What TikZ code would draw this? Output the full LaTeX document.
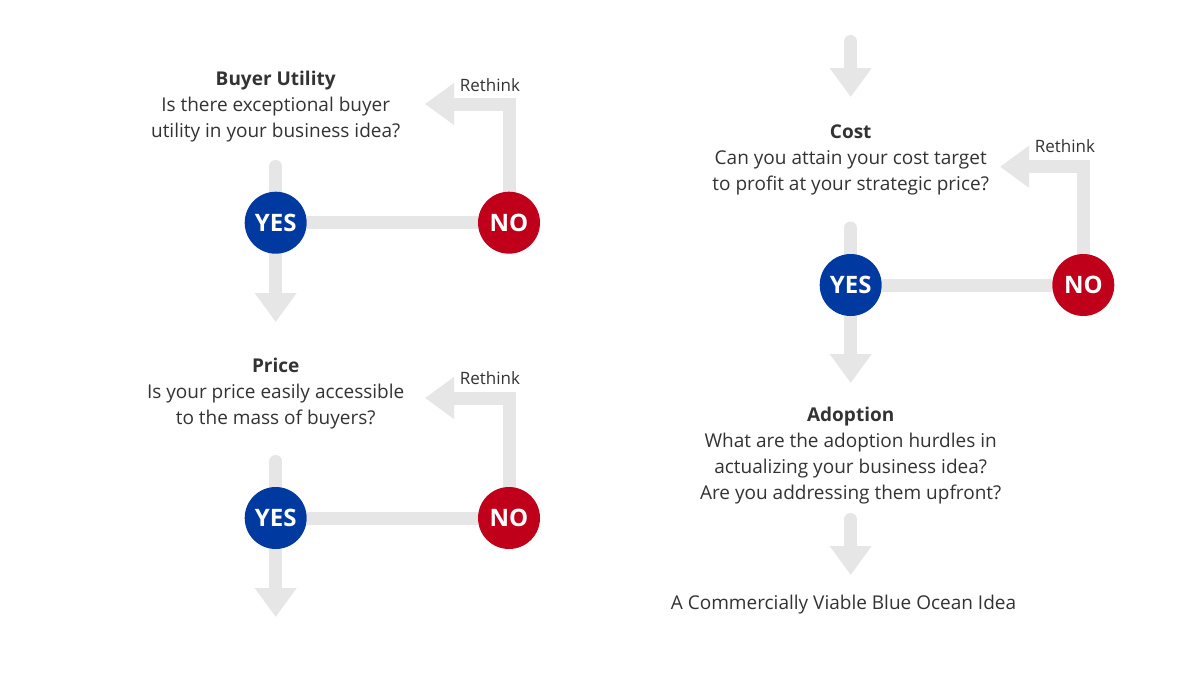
\documentclass[tikz,border=0pt]{standalone}
\usepackage{fontspec}
\setmainfont{Open Sans}
\usetikzlibrary{arrows.meta,backgrounds}
\definecolor{barc}{HTML}{E6E6E6}
\definecolor{yesblue}{HTML}{0039A0}
\definecolor{nored}{HTML}{C0001B}
\definecolor{txt}{HTML}{333333}
\begin{document}
\begin{tikzpicture}[x=0.5pt,y=-0.5pt,
  circ/.style={circle,minimum size=31pt,inner sep=0pt,text=white,font=\bfseries\fontsize{12}{14}\selectfont},
  yesnode/.style={circ,fill=yesblue},
  nonode/.style={circ,fill=nored},
  conn/.style={draw=barc,line width=6.5pt},
  downarrow/.style={conn,line cap=round,-{Triangle[width=20pt,length=14.5pt]}},
  rethinkarrow/.style={conn,-{Triangle[width=20pt,length=14.5pt]}},
  question/.style={align=center,text=txt,font=\fontsize{9.5}{13}\selectfont,inner sep=0pt},
  rlabel/.style={text=txt,font=\fontsize{8.5}{10}\selectfont,inner sep=0pt},
]
\useasboundingbox (0,0) rectangle (1200,675);

% Block 1: Buyer Utility
\node[question] (t1) at (275.7,107) {\textbf{Buyer Utility}\\Is there exceptional buyer\\utility in your business idea?};
\node[yesnode] (yes1) at (275.7,222.7) {YES};
\node[nonode] (no1) at (509,222.7) {NO};
\coordinate (y1top) at (275.7,166.5);
\coordinate (y1tip) at (275.7,322);
\coordinate (r1tip) at (425,104);
\node[rlabel] (rl1) at (490,85) {Rethink};

% Block 2: Price
\node[question] (t2) at (275.7,394) {\textbf{Price}\\Is your price easily accessible\\to the mass of buyers?};
\node[yesnode] (yes2) at (275.7,518) {YES};
\node[nonode] (no2) at (509,518) {NO};
\coordinate (y2top) at (275.7,461.5);
\coordinate (y2tip) at (275.7,617);
\coordinate (r2tip) at (425,398);
\node[rlabel] (rl2) at (490,378) {Rethink};

% Block 3: Cost
\coordinate (c0top) at (850.7,41.5);
\coordinate (c0tip) at (850.7,97);
\node[question] (t3) at (850.7,160) {\textbf{Cost}\\Can you attain your cost target\\to profit at your strategic price?};
\node[yesnode] (yes3) at (850.7,285) {YES};
\node[nonode] (no3) at (1083.3,285) {NO};
\coordinate (y3top) at (850.7,228);
\coordinate (y3tip) at (850.7,383);
\coordinate (r3tip) at (1000,166.7);
\node[rlabel] (rl3) at (1065,146) {Rethink};

% Block 4: Adoption
\node[question] (t4) at (850.7,455.5) {\textbf{Adoption}\\What are the adoption hurdles in\\actualizing your business idea?\\Are you addressing them upfront?};
\coordinate (a0top) at (850.7,519.5);
\coordinate (a0tip) at (850.7,575);
\node[question] (fin) at (843.5,605) {A Commercially Viable Blue Ocean Idea};

\begin{scope}[on background layer]
  \fill[white] (0,0) rectangle (1200,675);
  \draw[conn] (yes1) -- (no1);
  \draw[downarrow] (y1top) -- (y1tip);
  \draw[rethinkarrow] (no1.center) |- (r1tip);
  \draw[conn] (yes2) -- (no2);
  \draw[downarrow] (y2top) -- (y2tip);
  \draw[rethinkarrow] (no2.center) |- (r2tip);
  \draw[downarrow] (c0top) -- (c0tip);
  \draw[conn] (yes3) -- (no3);
  \draw[downarrow] (y3top) -- (y3tip);
  \draw[rethinkarrow] (no3.center) |- (r3tip);
  \draw[downarrow] (a0top) -- (a0tip);
\end{scope}
\end{tikzpicture}
\end{document}
